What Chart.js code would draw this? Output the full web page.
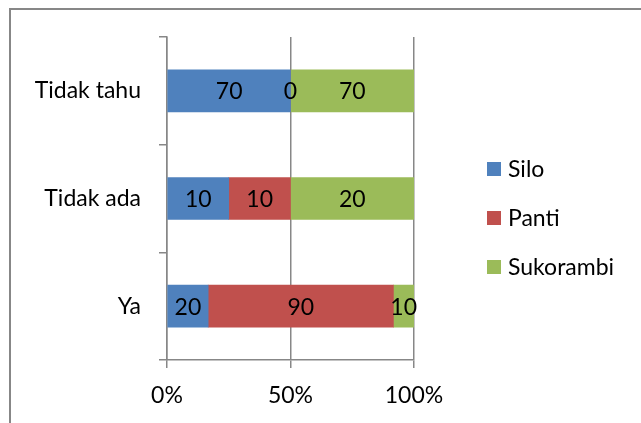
<!DOCTYPE html>
<html>
<head>
<meta charset="utf-8">
<script src="https://cdn.jsdelivr.net/npm/chart.js@4/dist/chart.umd.min.js"></script>
<style>
  html, body { margin: 0; padding: 0; background: #fff; }
  #wrap { position: relative; width: 641px; height: 423px; overflow: hidden; font-family: Lato, sans-serif; }
  #frame { position: absolute; left: 9px; top: 8px; width: 700px; height: 500px; border-left: 2px solid #878787; border-top: 2px solid #878787; box-sizing: border-box; }
  #chart { position: absolute; left: 0; top: 0; }
  #legend { position: absolute; left: 487px; top: 154px; font-size: 23px; color: #000; }
  #legend div { height: 49px; display: flex; align-items: flex-start; }
  #legend span.box { display: inline-block; width: 14px; height: 14px; margin-top: 8px; margin-right: 7px; }
</style>
</head>
<body>
<div id="wrap">
  <div id="frame"></div>
  <canvas id="chart" width="641" height="423"></canvas>
  <div id="legend"></div>
</div>
<script>
const categories = ["Tidak tahu", "Tidak ada", "Ya"];
const seriesNames = ["Silo", "Panti", "Sukorambi"];
const silo = [70, 10, 20];
const panti = [0, 10, 90];
const sukorambi = [70, 20, 10];
const xTicks = [0, 50, 100];
const colors = ["#4F81BD", "#C0504D", "#9BBB59"];

const raw = [silo, panti, sukorambi];
const totals = categories.map((_, i) => raw.reduce((s, arr) => s + arr[i], 0));

const gridColor = "#878787";
const fontSpec = { family: "Lato, sans-serif", size: 23 };

// value labels in bar centres
const barLabels = {
  id: "barLabels",
  afterDatasetsDraw(chart) {
    const ctx = chart.ctx;
    ctx.save();
    ctx.font = "23px Lato, sans-serif";
    ctx.fillStyle = "#000";
    ctx.textAlign = "center";
    ctx.textBaseline = "middle";
    chart.data.datasets.forEach((ds, di) => {
      chart.getDatasetMeta(di).data.forEach((bar, i) => {
        const cx = (bar.x + bar.base) / 2;
        ctx.fillText(String(ds.rawValues[i]), cx, bar.y + 1);
      });
    });
    ctx.restore();
  }
};

new Chart(document.getElementById("chart"), {
  type: "bar",
  data: {
    labels: categories,
    datasets: seriesNames.map((name, k) => ({
      label: name,
      data: raw[k].map((v, i) => v / totals[i] * 100),
      rawValues: raw[k],
      backgroundColor: colors[k],
      barThickness: 42
    }))
  },
  options: {
    indexAxis: "y",
    responsive: false,
    animation: false,
    layout: { padding: { top: 37, right: 227, left: 0, bottom: 0 } },
    plugins: { legend: { display: false }, tooltip: { enabled: false } },
    scales: {
      x: {
        stacked: true,
        min: 0,
        max: 100,
        afterBuildTicks: (s) => { s.ticks = xTicks.map(v => ({ value: v })); },
        afterFit: (s) => { s.height = 63; },
        ticks: { callback: (v) => v + "%", color: "#000", font: fontSpec, padding: 14, maxRotation: 0 },
        grid: { color: gridColor, lineWidth: 1.5, tickLength: 8 },
        border: { color: gridColor, width: 1.5 }
      },
      y: {
        stacked: true,
        afterFit: (s) => { s.width = 167; },
        ticks: { color: "#000", font: fontSpec, padding: 18 },
        grid: { drawOnChartArea: false, color: gridColor, lineWidth: 1.5, tickLength: 8, offset: true },
        border: { color: gridColor, width: 1.5 }
      }
    }
  },
  plugins: [barLabels]
});

// legend
const legend = document.getElementById("legend");
seriesNames.forEach((name, k) => {
  const row = document.createElement("div");
  const box = document.createElement("span");
  box.className = "box";
  box.style.background = colors[k];
  row.appendChild(box);
  row.appendChild(document.createTextNode(name));
  legend.appendChild(row);
});
</script>
</body>
</html>
